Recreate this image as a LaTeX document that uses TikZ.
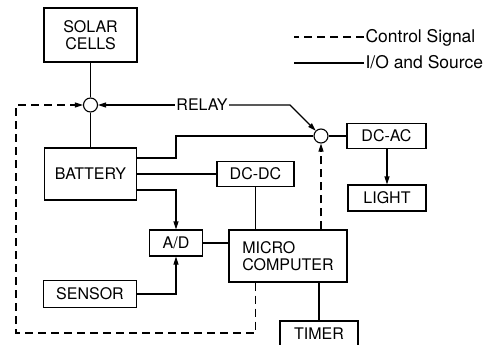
\documentclass[tikz,border=0pt]{standalone}
\usepackage{fontspec}
\setmainfont{TeX Gyre Heros}
\usepackage{tikz}
\usetikzlibrary{arrows.meta, positioning, calc}

\begin{document}
\begin{tikzpicture}[x=1pt, y=-1pt, line width=1.1pt,
  blockbox/.style={draw, line width=1.1pt, inner sep=2pt, align=center,
        font=\fontsize{16}{16.5}\selectfont},
  junction/.style={draw, circle, minimum size=14pt, inner sep=0pt},
  keytext/.style={anchor=west, inner sep=1pt, text height=12pt, text depth=0pt,
        font=\fontsize{17.5}{18}\selectfont},
  ctrl/.style={dash pattern=on 8pt off 5pt},
  tip/.style={-{Triangle[length=8pt, width=5pt]}}]
  \useasboundingbox (0,0) rectangle (496,345);

  % blocks
  \node[blockbox, minimum width=93pt, minimum height=54pt] (solar) at (90.5,35) {SOLAR\\CELLS};
  \node[junction] (lsw) at (90.5,105) {};
  \node[blockbox, minimum width=92pt, minimum height=52pt] (battery) at (90.5,174) {BATTERY};
  \node[blockbox, minimum width=77pt, minimum height=25pt] (dcdc) at (255.5,174) {DC-DC};
  \node[blockbox, minimum width=53pt, minimum height=26pt] (ad) at (176,243) {A/D};
  \node[blockbox, minimum width=93pt, minimum height=27pt] (sensor) at (90,294) {SENSOR};
  \node[blockbox, minimum width=118pt, minimum height=52pt, align=left] (micro) at (288,256) {MICRO\\COMPUTER};
  \node[blockbox, minimum width=78pt, minimum height=26pt] (timer) at (319,334) {TIMER};
  \node[junction] (rsw) at (321,136) {};
  \node[blockbox, minimum width=79pt, minimum height=25pt] (dcac) at (386.5,136) {DC-AC};
  \node[blockbox, minimum width=78pt, minimum height=26pt] (light) at (387,198) {LIGHT};
  \node[inner sep=1pt, font=\fontsize{16}{16}\selectfont] (relay) at (202,105) {RELAY};

  % legend
  \node[keytext] (ctrlkey) at (364,37) {Control Signal};
  \node[keytext] (iokey) at (364,63) {I/O and Source};
  \draw[ctrl] (ctrlkey.west) -- ++(-70,0);
  \draw (iokey.west) -- ++(-70,0);

  \coordinate (kink) at (176,136);
  \coordinate (rbend) at (290,105);
  \coordinate (cbl) at (16,333);
  \coordinate (ctl) at (16,105);

  % I/O and source
  \draw (solar) -- (lsw);
  \draw (lsw) -- (battery);
  \draw ([yshift=16pt]battery.east) -| (kink) -- (rsw);
  \draw (battery.east) -- (dcdc.west);
  \draw[tip] ([yshift=-16pt]battery.east) -| (ad.north);
  \draw[tip] (sensor.east) -| (ad.south);
  \draw (ad.east) -- (ad.east -| micro.west);
  \draw (dcdc.south) -- (dcdc.south |- micro.north);
  \draw (timer.north |- micro.south) -- (timer.north);
  \draw (rsw) -- (dcac);
  \draw[tip] (dcac.south -| light.north) -- (light.north);
  \draw[tip] (relay) -- (lsw);
  \draw[tip] (relay.east) -- (rbend) -- (rsw);

  % control signals
  \draw[ctrl, tip] (dcdc.south |- micro.south) |- (cbl) -- (ctl) -- (lsw);
  \draw[ctrl, tip] (rsw.south |- micro.north) -- (rsw);
\end{tikzpicture}
\end{document}
